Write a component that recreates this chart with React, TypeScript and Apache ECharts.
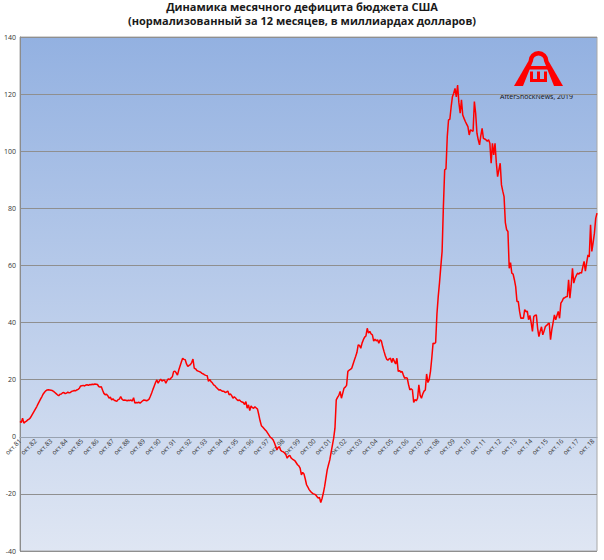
import React, { useEffect, useRef } from "react";
import * as echarts from "echarts";

const titleLine1 = "Динамика месячного дефицита бюджета США";
const titleLine2 = "(нормализованный за 12 месяцев, в миллиардах долларов)";
const watermark = "AfterShockNews, 2019";

const monthNames = ["окт", "ноя", "дек", "янв", "фев", "мар", "апр", "май", "июн", "июл", "авг", "сен"];
const startYear = 1981;

// Monthly deficit values, each row Oct..Sep starting Oct 1981 (billion USD)
const fy82 = [5.4, 5.0, 6.5, 4.8, 5.2, 5.5, 5.9, 6.2, 6.6, 7.4, 8.2, 9.0];
const fy83 = [9.8, 10.6, 11.5, 12.4, 13.3, 14.1, 15.0, 15.6, 16.1, 16.4, 16.5, 16.4];
const fy84 = [16.3, 16.2, 15.9, 15.5, 15.1, 14.7, 14.4, 14.9, 15.0, 15.4, 15.5, 15.1];
const fy85 = [15.3, 15.6, 15.4, 15.5, 15.9, 16.0, 16.2, 16.1, 16.4, 16.6, 17.0, 17.8];
const fy86 = [17.9, 18.0, 17.8, 18.1, 18.2, 18.0, 18.3, 18.2, 18.4, 18.3, 18.5, 18.4];
const fy87 = [18.3, 17.6, 17.4, 17.5, 16.3, 15.2, 14.7, 14.9, 14.4, 13.5, 13.9, 12.9];
const fy88 = [13.3, 12.8, 12.6, 12.4, 13.0, 13.2, 14.1, 13.2, 12.8, 12.9, 12.8, 12.6];
const fy89 = [12.8, 12.7, 12.9, 12.5, 13.7, 11.8, 12.0, 11.9, 12.1, 11.8, 12.2, 12.6];
const fy90 = [12.9, 12.8, 12.6, 12.8, 13.2, 14.2, 15.3, 16.6, 17.8, 19.0, 19.9, 18.8];
const fy91 = [19.6, 20.2, 19.5, 19.8, 19.8, 18.8, 19.7, 20.3, 20.0, 20.6, 21.0, 22.8];
const fy92 = [23.0, 22.4, 21.6, 23.4, 24.8, 26.2, 27.5, 27.1, 27.0, 25.5, 24.6, 25.0];
const fy93 = [25.3, 26.0, 27.2, 24.0, 23.8, 23.2, 23.0, 22.8, 22.6, 22.2, 22.0, 21.7];
const fy94 = [21.5, 21.4, 19.4, 20.1, 19.3, 18.9, 18.2, 17.9, 17.3, 16.9, 16.4, 16.5];
const fy95 = [16.2, 15.9, 15.9, 15.5, 15.7, 16.0, 14.7, 15.0, 14.4, 13.5, 14.0, 13.6];
const fy96 = [13.0, 12.7, 12.9, 12.4, 12.2, 12.0, 11.3, 12.3, 10.0, 11.2, 9.2, 10.8];
const fy97 = [10.2, 10.0, 10.5, 10.1, 9.7, 7.7, 5.6, 3.9, 3.4, 2.9, 2.4, 1.9];
const fy98 = [1.2, 0.5, -0.2, -0.5, -1.0, -2.0, -3.2, -4.6, -3.7, -3.5, -4.8, -5.1];
const fy99 = [-5.3, -5.7, -6.3, -7.5, -6.8, -6.5, -7.4, -7.8, -8.1, -8.4, -9.1, -9.8];
const fy00 = [-10.2, -11.0, -13.3, -12.5, -13.0, -14.8, -16.8, -17.6, -18.5, -19.1, -19.6, -19.9];
const fy01 = [-20.1, -20.3, -20.9, -21.5, -21.2, -23.0, -21.6, -19.7, -17.4, -14.5, -11.6, -9.8];
const fy02 = [-8.1, -5.5, -3.0, -0.5, 3.0, 12.9, 13.8, 14.5, 15.9, 13.5, 15.2, 17.0];
const fy03 = [17.4, 18.0, 22.9, 23.3, 23.6, 24.0, 25.4, 26.8, 28.1, 29.5, 32.2, 32.0];
const fy04 = [31.0, 32.8, 34.0, 34.9, 35.3, 38.0, 36.3, 36.9, 36.0, 35.7, 33.5, 34.2];
const fy05 = [33.6, 34.0, 32.8, 34.0, 33.5, 31.5, 29.9, 28.4, 27.2, 26.8, 27.3, 27.5];
const fy06 = [26.0, 27.5, 26.4, 25.5, 27.5, 22.9, 23.2, 22.6, 22.9, 21.6, 20.5, 20.7];
const fy07 = [20.5, 18.3, 16.4, 16.8, 16.4, 12.0, 13.0, 12.6, 13.5, 18.2, 14.5, 13.5];
const fy08 = [15.0, 16.0, 16.4, 22.0, 19.0, 20.0, 22.9, 27.5, 32.8, 32.6, 33.0, 43.0];
const fy09 = [49.1, 54.0, 59.6, 64.9, 80.6, 93.5, 93.8, 105.1, 111.0, 111.2, 115.5, 119.1];
const fy10 = [120.3, 122.0, 119.0, 123.2, 117.0, 113.3, 118.0, 112.7, 111.5, 110.4, 109.5, 108.6];
const fy11 = [105.7, 107.5, 107.2, 107.0, 117.4, 113.3, 106.3, 104.0, 102.2, 105.5, 108.0, 104.5];
const fy12 = [104.3, 104.0, 103.5, 104.0, 102.8, 95.8, 102.8, 98.7, 102.8, 96.0, 91.1, 93.5];
const fy13 = [95.8, 88.2, 86.0, 84.1, 75.0, 72.5, 71.9, 59.0, 61.0, 57.3, 57.0, 55.0];
const fy14 = [52.6, 47.4, 47.4, 44.0, 41.5, 41.6, 41.5, 44.5, 43.8, 44.0, 41.0, 42.5];
const fy15 = [40.0, 36.9, 42.1, 42.5, 42.7, 38.0, 35.1, 37.0, 38.5, 35.7, 37.0, 38.6];
const fy16 = [39.0, 39.5, 39.8, 34.0, 37.5, 40.0, 42.7, 41.0, 42.5, 43.9, 41.5, 46.8];
const fy17 = [47.5, 48.5, 48.7, 49.0, 49.1, 55.0, 48.5, 53.0, 59.0, 53.8, 55.5, 56.5];
const fy18 = [57.3, 57.0, 57.5, 57.3, 59.5, 61.4, 58.0, 61.0, 63.7, 63.0, 74.2, 64.9];
const fy19 = [68.0, 71.3, 76.5, 78.3];

const deficit: number[] = [
  ...fy82, ...fy83, ...fy84, ...fy85, ...fy86, ...fy87, ...fy88, ...fy89, ...fy90,
  ...fy91, ...fy92, ...fy93, ...fy94, ...fy95, ...fy96, ...fy97, ...fy98, ...fy99,
  ...fy00, ...fy01, ...fy02, ...fy03, ...fy04, ...fy05, ...fy06, ...fy07, ...fy08,
  ...fy09, ...fy10, ...fy11, ...fy12, ...fy13, ...fy14, ...fy15, ...fy16, ...fy17,
  ...fy18, ...fy19,
];

const categories: string[] = deficit.map((_, i) => {
  const m = i % 12;
  const year = startYear + Math.floor(i / 12) + (m >= 3 ? 1 : 0);
  return `${monthNames[m]}.${String(year % 100).padStart(2, "0")}`;
});

const yMin = -40;
const yMax = 140;
const yStep = 20;

export default function App() {
  const ref = useRef<HTMLDivElement>(null);
  useEffect(() => {
    if (!ref.current) return;
    const chart = echarts.init(ref.current, undefined, { renderer: "svg" });
    const red = "#ff0000";
    const W = 604;
    const H = 560;
    const gridTop = 37;
    const gridBottom = 9;
    const gridHeight = H - gridTop - gridBottom;
    // raise the category axis from the bottom edge to the zero line
    const zeroOffset = -gridHeight * (0 - yMin) / (yMax - yMin);
    chart.setOption({
      animation: false,
      backgroundColor: "#ffffff",
      textStyle: { fontFamily: "Open Sans, sans-serif" },
      title: {
        text: titleLine1 + "\n" + titleLine2,
        left: "center",
        top: 0,
        padding: 0,
        textStyle: {
          fontSize: 11,
          fontWeight: "bold",
          color: "#1a1a1a",
          lineHeight: 13.5,
          fontFamily: "Open Sans, sans-serif",
        },
      },
      grid: {
        left: 20,
        right: 7,
        top: gridTop,
        bottom: gridBottom,
        containLabel: false,
        outerBoundsMode: "none",
        show: true,
        borderColor: "#a8a8a8",
        borderWidth: 1,
        backgroundColor: new echarts.graphic.LinearGradient(0, 0, 0, 1, [
          { offset: 0, color: "#93b1e1" },
          { offset: 1, color: "#dfe6f3" },
        ]),
      },
      xAxis: {
        type: "category",
        data: categories,
        boundaryGap: false,
        position: "bottom",
        offset: zeroOffset,
        axisLine: { show: true, onZero: false, lineStyle: { color: "#98a2b0", width: 1 } },
        axisTick: { show: false },
        axisLabel: {
          interval: (index: number) => index % 12 === 0,
          rotate: 45,
          fontSize: 6.5,
          color: "#333",
          margin: 3,
          hideOverlap: false,
          fontFamily: "Open Sans, sans-serif",
        },
        splitLine: { show: false },
      },
      yAxis: {
        type: "value",
        min: yMin,
        max: yMax,
        interval: yStep,
        axisLine: { show: true, onZero: false, lineStyle: { color: "#8c8c8c" } },
        axisTick: { show: false },
        axisLabel: { fontSize: 7, color: "#333", margin: 4, fontFamily: "Open Sans, sans-serif" },
        splitLine: { show: true, lineStyle: { color: "#8f8f8f", width: 1 } },
      },
      series: [
        {
          type: "line",
          data: deficit,
          showSymbol: false,
          symbol: "none",
          lineStyle: { color: red, width: 1.5 },
          z: 5,
        },
      ],
      graphic: [
        {
          type: "group",
          z: 10,
          children: [
            {
              type: "sector",
              shape: { cx: 538.5, cy: 61, r: 10, r0: 5.5, startAngle: Math.PI, endAngle: Math.PI * 2 },
              style: { fill: red },
            },
            {
              type: "polygon",
              shape: { points: [[528.5, 61], [533, 61], [523, 86], [514, 86]] },
              style: { fill: red },
            },
            {
              type: "polygon",
              shape: { points: [[544, 61], [548.5, 61], [563, 86], [554, 86]] },
              style: { fill: red },
            },
            { type: "rect", shape: { x: 526, y: 66, width: 25, height: 3.5 }, style: { fill: red } },
            { type: "rect", shape: { x: 530, y: 71.5, width: 3, height: 10 }, style: { fill: red } },
            { type: "rect", shape: { x: 537, y: 71.5, width: 3, height: 10 }, style: { fill: red } },
            { type: "rect", shape: { x: 544, y: 71.5, width: 3, height: 10 }, style: { fill: red } },
            { type: "rect", shape: { x: 530, y: 79, width: 17, height: 3 }, style: { fill: red } },
            {
              type: "text",
              x: 500,
              y: 93,
              style: {
                text: watermark,
                fontSize: 7,
                fontWeight: "normal",
                fill: "#111",
                fontFamily: "Open Sans, sans-serif",
              },
            },
          ],
        },
      ],
    });
    return () => chart.dispose();
  }, []);
  return (
    <div
      ref={ref}
      style={{ position: "absolute", left: 0, top: 0, width: 604, height: 560 }}
    />
  );
}
